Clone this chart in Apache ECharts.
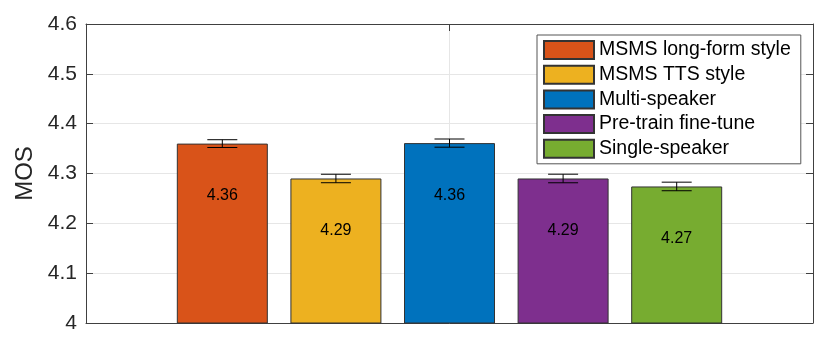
<!DOCTYPE html>
<html lang="en">
<head>
<meta charset="utf-8">
<script src="https://cdn.jsdelivr.net/npm/echarts@6/dist/echarts.min.js"></script>
<style>
  html, body { margin: 0; padding: 0; background: #fff; }
  #chart { width: 830px; height: 350px; }
</style>
</head>
<body>
<div id="chart"></div>
<script type="text/javascript">
    // systems, in legend order
    var names = ['MSMS long-form style', 'MSMS TTS style', 'Multi-speaker', 'Pre-train fine-tune', 'Single-speaker'];
    var positions = [1, 2, 3, 4, 5];
    var mos = [4.36, 4.29, 4.361, 4.29, 4.274];
    var errs = [0.0078, 0.0085, 0.0082, 0.0086, 0.0086];
    var colors = ['#D95319', '#EDB120', '#0072BD', '#7E2F8E', '#77AC30'];
    var yTicks = [4, 4.1, 4.2, 4.3, 4.4, 4.5, 4.6];

    var font = 'Liberation Sans, Helvetica, Arial, sans-serif';
    var axisColor = '#404040';

    var myChart = echarts.init(document.getElementById('chart'));

    var series = [];
    for (var i = 0; i < names.length; i++) {
        series.push({
            name: names[i],
            type: 'bar',
            xAxisIndex: 0,
            yAxisIndex: 0,
            barWidth: 91,
            barGap: '-100%',
            itemStyle: { color: colors[i], borderColor: '#333', borderWidth: 1 },
            label: {
                show: true,
                position: 'insideTop',
                distance: 44,
                color: '#000',
                fontFamily: font,
                fontSize: 16,
                formatter: function (p) { return p.value[1].toFixed(2); }
            },
            data: [[positions[i], mos[i]]],
            z: 2
        });
    }

    var errData = [];
    for (var j = 0; j < mos.length; j++) {
        errData.push([positions[j], mos[j], errs[j]]);
    }

    series.push({
        type: 'custom',
        xAxisIndex: 0,
        yAxisIndex: 0,
        silent: true,
        z: 5,
        renderItem: function (params, api) {
            var x = api.value(0);
            var v = api.value(1);
            var e = api.value(2);
            var hi = api.coord([x, v + e]);
            var lo = api.coord([x, v - e]);
            var half = 15;
            var style = { stroke: '#000', lineWidth: 1 };
            return {
                type: 'group',
                children: [
                    { type: 'line', shape: { x1: hi[0], y1: hi[1], x2: lo[0], y2: lo[1] }, style: style },
                    { type: 'line', shape: { x1: hi[0] - half, y1: hi[1], x2: hi[0] + half, y2: hi[1] }, style: style },
                    { type: 'line', shape: { x1: lo[0] - half, y1: lo[1], x2: lo[0] + half, y2: lo[1] }, style: style }
                ]
            };
        },
        data: errData
    });

    var option = {
        animation: false,
        grid: { left: 86, right: 17, top: 24, bottom: 27, containLabel: false },
        legend: {
            orient: 'vertical',
            left: 537,
            top: 35,
            padding: [5, 10, 5, 6],
            itemWidth: 50,
            itemHeight: 18,
            itemGap: 4.7,
            icon: 'rect',
            backgroundColor: '#fff',
            borderColor: '#555',
            borderWidth: 1,
            borderRadius: 0,
            textStyle: { fontFamily: font, fontSize: 19.5, lineHeight: 18, color: '#000' },
            data: names
        },
        xAxis: [
            {
                type: 'value',
                min: -0.2,
                max: 6.2,
                show: false
            },
            {
                type: 'value',
                position: 'bottom',
                min: 0,
                max: 2,
                interval: 1,
                axisLine: { show: true, onZero: false, lineStyle: { color: axisColor, width: 1 } },
                axisTick: { show: true, inside: true, length: 7, lineStyle: { color: axisColor } },
                axisLabel: { show: false },
                splitLine: { show: true, lineStyle: { color: '#e6e6e6', width: 1 } }
            },
            {
                type: 'value',
                position: 'top',
                min: 0,
                max: 2,
                interval: 1,
                axisLine: { show: true, onZero: false, lineStyle: { color: axisColor, width: 1 } },
                axisTick: { show: true, inside: true, length: 7, lineStyle: { color: axisColor } },
                axisLabel: { show: false },
                splitLine: { show: false }
            }
        ],
        yAxis: [
            {
                type: 'value',
                position: 'left',
                min: yTicks[0],
                max: yTicks[yTicks.length - 1],
                interval: 0.1,
                name: 'MOS',
                nameLocation: 'middle',
                nameGap: 46,
                nameTextStyle: { fontFamily: font, fontSize: 24, color: '#262626' },
                axisLine: { show: true, onZero: false, lineStyle: { color: axisColor, width: 1 } },
                axisTick: { show: true, inside: true, length: 7, lineStyle: { color: axisColor } },
                axisLabel: {
                    margin: 9,
                    fontFamily: font,
                    fontSize: 21,
                    color: '#262626',
                    formatter: function (v) { return String(Math.round(v * 10) / 10); }
                },
                splitLine: { show: true, lineStyle: { color: '#e6e6e6', width: 1 } }
            },
            {
                type: 'value',
                position: 'right',
                min: yTicks[0],
                max: yTicks[yTicks.length - 1],
                interval: 0.1,
                axisLine: { show: true, onZero: false, lineStyle: { color: axisColor, width: 1 } },
                axisTick: { show: true, inside: true, length: 7, lineStyle: { color: axisColor } },
                axisLabel: { show: false },
                splitLine: { show: false }
            }
        ],
        series: series
    };

    myChart.setOption(option);
</script>
</body>
</html>
